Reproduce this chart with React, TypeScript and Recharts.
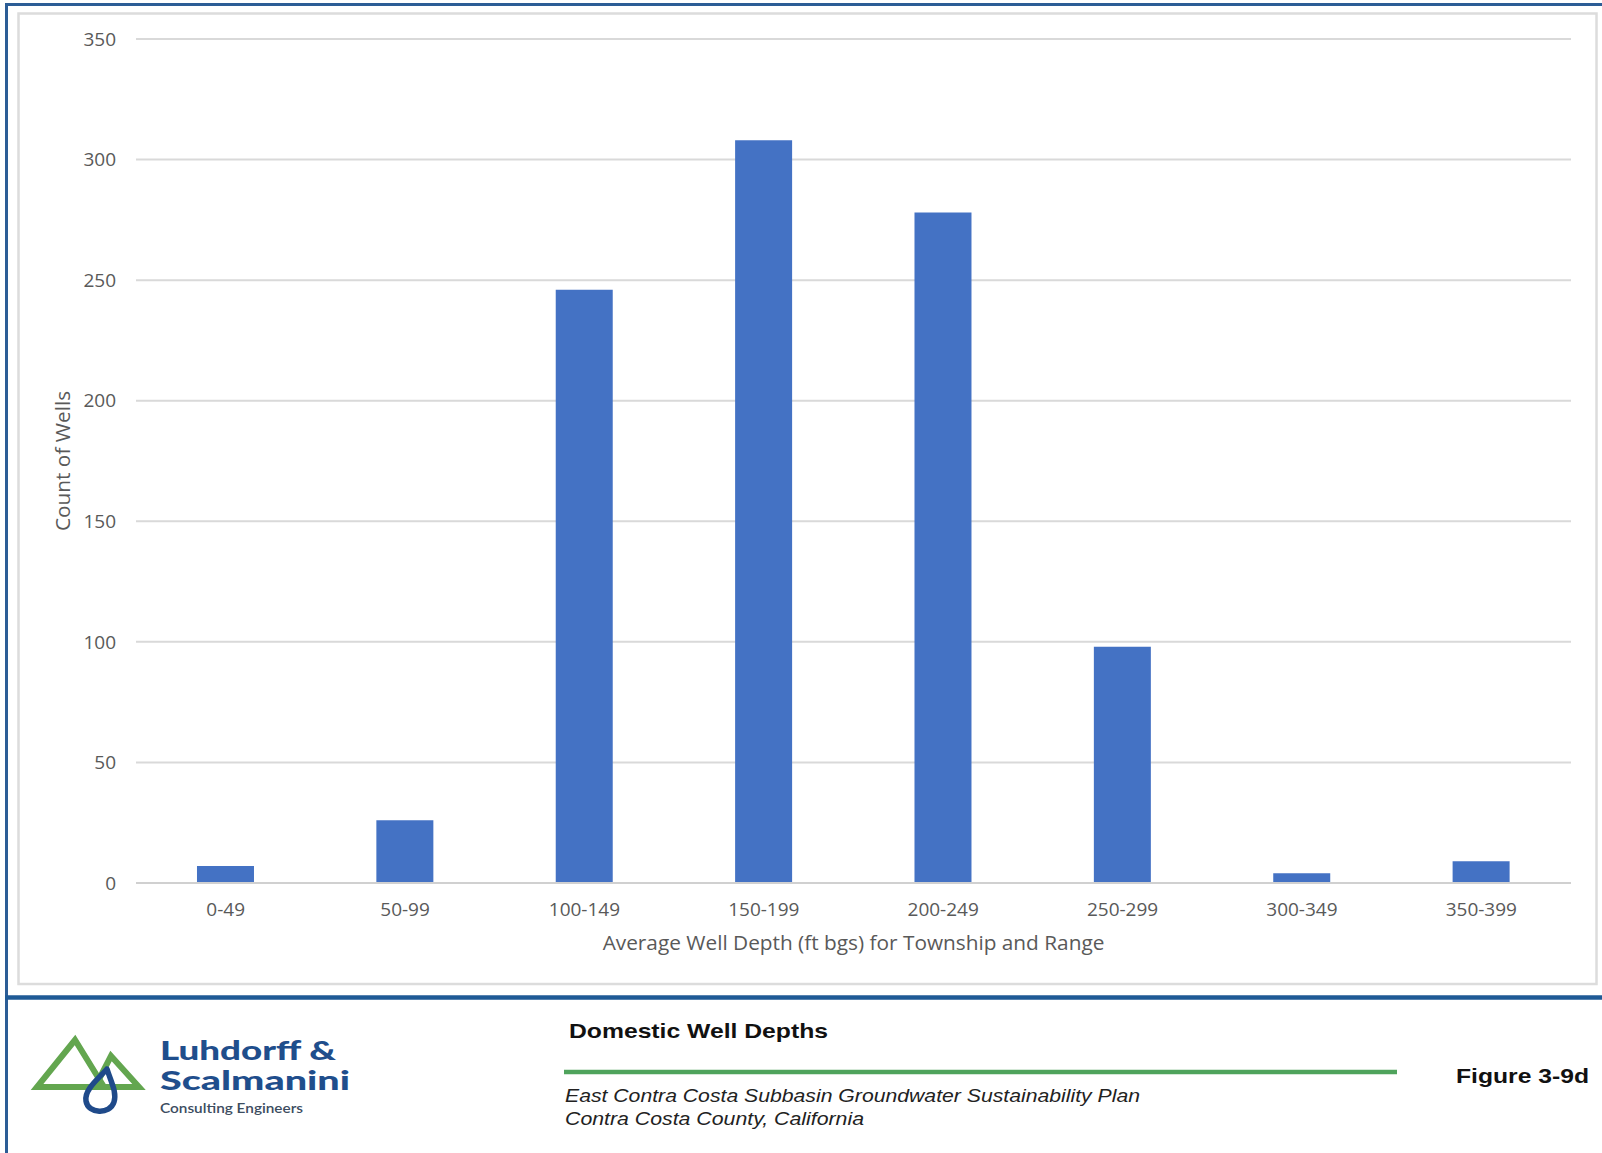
import React from 'react';
import { BarChart, Bar, XAxis, YAxis, CartesianGrid, Label } from 'recharts';

const depthBins = ['0-49', '50-99', '100-149', '150-199', '200-249', '250-299', '300-349', '350-399'];
const wellCounts = [7, 26, 246, 308, 278, 98, 4, 9];
const yTicks = [0, 50, 100, 150, 200, 250, 300, 350];

const xTitle = 'Average Well Depth (ft bgs) for Township and Range';
const yTitle = 'Count of Wells';
const figTitle = 'Domestic Well Depths';
const figNumber = 'Figure 3-9d';
const planLine = 'East Contra Costa Subbasin Groundwater Sustainability Plan';
const countyLine = 'Contra Costa County, California';

const data = depthBins.map((bin, i) => ({ bin, count: wellCounts[i] }));

const FONT = "'Open Sans', 'DejaVu Sans', sans-serif";
const tickStyle = { fill: '#595959', fontSize: 19, fontFamily: FONT };

function Frame() {
  return (
    <svg width={1602} height={1153} style={{ position: 'absolute', left: 0, top: 0 }}>
      <rect x={0} y={0} width={1602} height={1153} fill="#ffffff" />
      {/* chart area frame */}
      <rect x={18.5} y={13.5} width={1578} height={970.5} fill="none" stroke="#dcdcdc" strokeWidth={2.5} />
      {/* blue borders */}
      <line x1={6.5} y1={3} x2={6.5} y2={1153} stroke="#2c5d96" strokeWidth={3} />
      <line x1={5} y1={4.5} x2={1602} y2={4.5} stroke="#2c5d96" strokeWidth={3} />
      <line x1={5} y1={997.5} x2={1602} y2={997.5} stroke="#1f5a96" strokeWidth={4.5} />
      {/* footer */}
      <text x={569} y={1037.5} fontFamily="'Liberation Sans', Arial, sans-serif" fontWeight="bold" fontSize={21}
        fill="#111" textLength={259} lengthAdjust="spacingAndGlyphs">{figTitle}</text>
      <line x1={564} y1={1072} x2={1397} y2={1072} stroke="#4fa35c" strokeWidth={4.5} />
      <text x={1456} y={1083} fontFamily="'Liberation Sans', Arial, sans-serif" fontWeight="bold" fontSize={21}
        fill="#111" textLength={133} lengthAdjust="spacingAndGlyphs">{figNumber}</text>
      <text x={565} y={1101.5} fontFamily="'Liberation Sans', Arial, sans-serif" fontStyle="italic" fontSize={18.5}
        fill="#222" textLength={575} lengthAdjust="spacingAndGlyphs">{planLine}</text>
      <text x={565} y={1125} fontFamily="'Liberation Sans', Arial, sans-serif" fontStyle="italic" fontSize={18.5}
        fill="#222" textLength={299} lengthAdjust="spacingAndGlyphs">{countyLine}</text>
      {/* logo */}
      <polygon points="75,1040 37,1087 104,1087" fill="none" stroke="#63a64f" strokeWidth={6} strokeLinejoin="miter" />
      <polygon points="111,1056 95,1087 139,1087" fill="none" stroke="#63a64f" strokeWidth={6} strokeLinejoin="miter" />
      <path d="M107,1069 C 98,1079 84,1090 86,1101 C 88,1114 110,1115 114,1102 C 117,1092 111,1082 107,1069 Z"
        fill="none" stroke="#1f4a8a" strokeWidth={5.5} strokeLinejoin="round" />
      <text x={160} y={1060} fontFamily="Lato, 'Open Sans', sans-serif" fontWeight={900} fontSize={27}
        fill="#1f4e8c" textLength={176} lengthAdjust="spacingAndGlyphs">{'Luhdorff &'}</text>
      <text x={160} y={1090} fontFamily="Lato, 'Open Sans', sans-serif" fontWeight={900} fontSize={27}
        fill="#1f4e8c" textLength={190} lengthAdjust="spacingAndGlyphs">{'Scalmanini'}</text>
      <text x={160} y={1113} fontFamily="Lato, 'Open Sans', sans-serif" fontWeight={600} fontSize={13}
        fill="#3c4c60" textLength={143} lengthAdjust="spacingAndGlyphs">{'Consulting Engineers'}</text>
    </svg>
  );
}

export default function App() {
  return (
    <div style={{ position: 'absolute', left: 0, top: 0, width: 1602, height: 1153, background: '#fff', overflow: 'hidden' }}>
      <Frame />
      <div style={{ position: 'absolute', left: 0, top: 0 }}>
        <BarChart
          width={1602}
          height={990}
          data={data}
          margin={{ top: 39, right: 31, left: 50, bottom: 32 }}
          barCategoryGap="34%"
          style={{ fontFamily: FONT }}
        >
          <CartesianGrid vertical={false} stroke="#d9d9d9" strokeWidth={2} />
          <XAxis
            dataKey="bin"
            height={75}
            tickLine={false}
            tickSize={0}
            tickMargin={20}
            axisLine={{ stroke: '#d0d0d0', strokeWidth: 2 }}
            tick={tickStyle}
            interval={0}
          >
            <Label value={xTitle} position="insideBottom" offset={8}
              style={{ fill: '#595959', fontSize: 20.8, fontFamily: FONT }} />
          </XAxis>
          <YAxis
            width={86}
            domain={[0, 350]}
            ticks={yTicks}
            axisLine={false}
            tickLine={false}
            tickSize={0}
            tickMargin={20}
            tick={tickStyle}
            interval={0}
          >
            <Label value={yTitle} angle={-90} position="insideLeft" offset={13}
              style={{ fill: '#595959', fontSize: 20.8, fontFamily: FONT, textAnchor: 'middle' }} />
          </YAxis>
          <Bar dataKey="count" fill="#4472c4" isAnimationActive={false} />
        </BarChart>
      </div>
    </div>
  );
}
